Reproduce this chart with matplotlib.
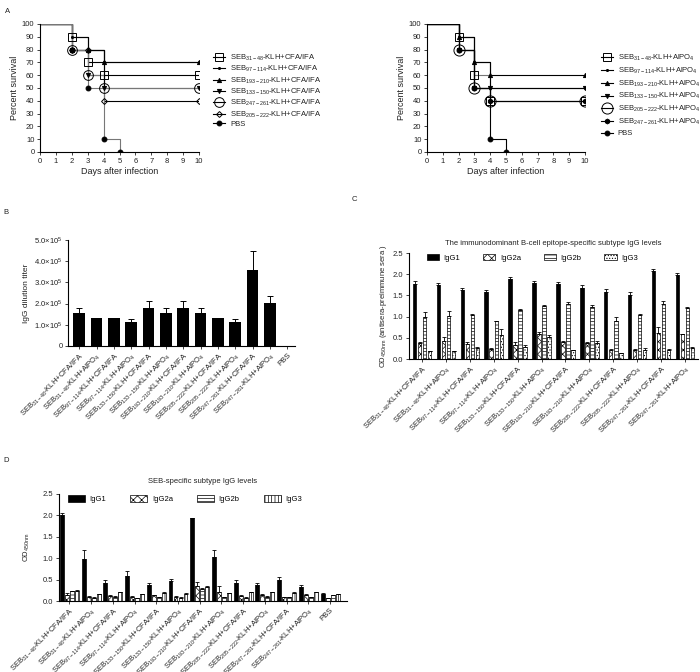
import numpy as np
import matplotlib
matplotlib.use('Agg')
from matplotlib import pyplot as plt

plt.rcParams['font.family'] = ['Liberation Sans', 'DejaVu Sans']
plt.rcParams['mathtext.fontset'] = 'custom'
plt.rcParams['mathtext.rm'] = 'Liberation Sans'
plt.rcParams['mathtext.it'] = 'Liberation Sans:italic'
plt.rcParams['mathtext.default'] = 'regular'
plt.rcParams['hatch.linewidth'] = 0.5
plt.rcParams['axes.linewidth'] = 0.8

# ---------------- data ----------------
days = [0, 2, 3, 4, 10]
days_pbs = [0, 2, 3, 4, 5]

cfa_names = ['SEB$_{31-48}$-KLH+CFA/IFA', 'SEB$_{97-114}$-KLH+CFA/IFA',
             'SEB$_{193-210}$-KLH+CFA/IFA', 'SEB$_{133-150}$-KLH+CFA/IFA',
             'SEB$_{247-261}$-KLH+CFA/IFA', 'SEB$_{205-222}$-KLH+CFA/IFA', 'PBS']
cfa_surv = [[100, 90, 70, 60, 60],
            [100, 90, 80, 70, 70],
            [100, 80, 80, 70, 70],
            [100, 80, 60, 50, 50],
            [100, 80, 60, 50, 50],
            [100, 80, 80, 40, 40],
            [100, 80, 50, 10, 0]]

alpo_names = ['SEB$_{31-48}$-KLH+AlPO$_4$', 'SEB$_{97-114}$-KLH+AlPO$_4$',
              'SEB$_{193-210}$-KLH+AlPO$_4$', 'SEB$_{133-150}$-KLH+AlPO$_4$',
              'SEB$_{205-222}$-KLH+AlPO$_4$', 'SEB$_{247-261}$-KLH+AlPO$_4$', 'PBS']
alpo_surv = [[100, 90, 60, 40, 40],
             [100, 90, 70, 50, 50],
             [100, 90, 70, 60, 60],
             [100, 80, 50, 50, 50],
             [100, 80, 50, 40, 40],
             [100, 80, 50, 40, 40],
             [100, 80, 50, 10, 0]]

groups = ['SEB$_{31-48}$-KLH+CFA/IFA', 'SEB$_{31-48}$-KLH+AlPO$_4$',
          'SEB$_{97-114}$-KLH+CFA/IFA', 'SEB$_{97-114}$-KLH+AlPO$_4$',
          'SEB$_{133-150}$-KLH+CFA/IFA', 'SEB$_{133-150}$-KLH+AlPO$_4$',
          'SEB$_{193-210}$-KLH+CFA/IFA', 'SEB$_{193-210}$-KLH+AlPO$_4$',
          'SEB$_{205-222}$-KLH+CFA/IFA', 'SEB$_{205-222}$-KLH+AlPO$_4$',
          'SEB$_{247-261}$-KLH+CFA/IFA', 'SEB$_{247-261}$-KLH+AlPO$_4$', 'PBS']

titer = [1.55, 1.3, 1.3, 1.15, 1.8, 1.55, 1.8, 1.55, 1.3, 1.15, 3.6, 2.05, 0.02]  # x1e5
titer_err = [0.25, 0, 0, 0.12, 0.3, 0.25, 0.3, 0.25, 0, 0.12, 0.9, 0.3, 0]

subtypes = ['IgG1', 'IgG2a', 'IgG2b', 'IgG3']

c_vals = [[1.78, 1.74, 1.63, 1.57, 1.88, 1.79, 1.76, 1.68, 1.57, 1.52, 2.07, 1.97],
          [0.38, 0.43, 0.36, 0.23, 0.34, 0.58, 0.39, 0.37, 0.21, 0.21, 0.61, 0.58],
          [1.00, 1.01, 1.04, 0.89, 1.15, 1.24, 1.29, 1.23, 0.89, 1.03, 1.29, 1.20],
          [0.19, 0.19, 0.27, 0.57, 0.29, 0.52, 0.21, 0.37, 0.14, 0.22, 0.22, 0.27]]
c_err = [[0.05, 0.05, 0.05, 0.05, 0.05, 0.05, 0.06, 0.06, 0.07, 0.05, 0.05, 0.05],
         [0.03, 0.10, 0.03, 0.02, 0.06, 0.05, 0.03, 0.02, 0.02, 0.02, 0.14, 0.02],
         [0.12, 0.13, 0.02, 0.01, 0.03, 0.04, 0.05, 0.05, 0.09, 0.02, 0.08, 0.02],
         [0.01, 0.01, 0.01, 0.14, 0.04, 0.04, 0.01, 0.05, 0.01, 0.04, 0.01, 0.02]]

d_vals = [[2.01, 0.98, 0.42, 0.58, 0.37, 0.46, 1.93, 1.02, 0.42, 0.38, 0.49, 0.32, 0.17],
          [0.15, 0.10, 0.12, 0.10, 0.13, 0.10, 0.35, 0.22, 0.12, 0.14, 0.09, 0.14, 0.07],
          [0.23, 0.08, 0.10, 0.06, 0.09, 0.08, 0.27, 0.09, 0.08, 0.10, 0.09, 0.09, 0.14],
          [0.24, 0.16, 0.20, 0.16, 0.19, 0.17, 0.32, 0.18, 0.20, 0.20, 0.19, 0.20, 0.16]]
d_err = [[0.05, 0.22, 0.08, 0.12, 0.05, 0.06, 0.02, 0.17, 0.06, 0.04, 0.06, 0.06, 0.02],
         [0.03, 0.01, 0.01, 0.01, 0.02, 0.02, 0.10, 0.12, 0.02, 0.02, 0.01, 0.02, 0.01],
         [0.01, 0.01, 0.01, 0.01, 0.01, 0.01, 0.03, 0.01, 0.01, 0.01, 0.01, 0.01, 0.01],
         [0.01, 0.01, 0.01, 0.01, 0.01, 0.01, 0.03, 0.01, 0.01, 0.01, 0.01, 0.01, 0.01]]

# ---------------- helpers ----------------
W, H = 700, 672
fs = 5.5
tc = '#222222'


def px_axes(fig, x0, y0, x1, y1):
    return fig.add_axes([x0 / W, 1 - y1 / H, (x1 - x0) / W, (y1 - y0) / H])


def style_ax(ax):
    for s in ['top', 'right']:
        ax.spines[s].set_visible(False)
    ax.tick_params(labelsize=fs, width=0.6, length=2.5, pad=1.5, colors=tc)


def survival(ax, names, surv, styles, leg_x, leg_sp):
    for i, (name, vals) in enumerate(zip(names, surv)):
        d = days_pbs if name == 'PBS' else days
        mk, ms, mfc, col = styles[i]
        ax.step(d, vals, where='post', color=col, lw=0.8, zorder=2)
        ax.plot(d[1:], vals[1:], ls='none', marker=mk, ms=ms, mfc=mfc, mec='k', mew=0.7, zorder=3)
        ax.plot([], [], color='k', lw=0.8, marker=mk, ms=ms, mfc=mfc, mec='k', mew=0.7, label=name)
    ax.set_xlim(0, 10)
    ax.set_ylim(0, 100)
    ax.set_xticks(range(0, 11))
    ax.set_yticks(range(0, 101, 10))
    ax.set_xlabel('Days after infection', fontsize=6.5, labelpad=2, color=tc)
    ax.set_ylabel('Percent survival', fontsize=6.5, labelpad=2, color=tc)
    style_ax(ax)
    leg = ax.legend(loc='upper left', bbox_to_anchor=(leg_x, 0.8), frameon=False, fontsize=fs,
                    handlelength=1.6, labelspacing=leg_sp, borderaxespad=0, handletextpad=0.6)
    for t in leg.get_texts():
        t.set_color(tc)


def grouped(ax, vals, errs, hatches, width, step):
    n = len(vals[0])
    x = np.arange(n)
    for k in range(4):
        pos = x + (k - 1.5) * step
        fc = 'black' if k == 0 else 'white'
        ax.bar(pos, vals[k], width, color=fc, edgecolor='black', lw=0.5, hatch=hatches[k],
               label=subtypes[k], zorder=2)
        ax.errorbar(pos, vals[k], yerr=[np.zeros(n), errs[k]], fmt='none', ecolor='black',
                    elinewidth=0.6, capsize=1.2, capthick=0.6, zorder=3)
    ax.set_ylim(0, 2.5)
    ax.set_yticks(np.arange(0, 2.51, 0.5))
    ax.set_yticklabels(['%.1f' % v for v in np.arange(0, 2.51, 0.5)])
    ax.set_xticks(x)
    style_ax(ax)


fig = plt.figure(figsize=(7, 6.72), dpi=100)

# ---------------- A ----------------
fig.text(5 / W, 1 - 13 / H, 'A', fontsize=fs, color=tc)
axA1 = px_axes(fig, 40, 24, 199, 152)
styles_cfa = [('s', 6, 'none', 'k'), ('.', 3, 'k', 'k'), ('^', 3, 'k', 'k'), ('v', 3, 'k', 'k'),
              ('o', 7, 'none', '#777'), ('D', 3, 'none', 'k'), ('o', 3.5, 'k', '#777')]
survival(axA1, cfa_names, cfa_surv, styles_cfa, 1.07, 0.15)

axA2 = px_axes(fig, 427, 24, 585, 152)
styles_alpo = [('s', 6, 'none', '#777'), ('.', 3, 'k', 'k'), ('^', 3, 'k', 'k'), ('v', 3, 'k', 'k'),
               ('o', 8, 'none', 'k'), ('h', 3.5, 'k', 'k'), ('o', 3.5, 'k', 'k')]
survival(axA2, alpo_names, alpo_surv, styles_alpo, 1.08, 0.35)

# ---------------- B ----------------
fig.text(3 / W, 1 - 214 / H, 'B', fontsize=fs, color=tc)
axB = px_axes(fig, 68, 240, 295, 346)
xb = np.arange(len(titer))
axB.bar(xb, titer, 0.68, color='black', zorder=2)
axB.errorbar(xb, titer, yerr=[np.zeros(len(titer)), titer_err], fmt='none', ecolor='black',
             elinewidth=0.7, capsize=2, capthick=0.7)
axB.set_xlim(-0.65, 12.45)
axB.set_ylim(0, 5)
axB.set_yticks([0, 1, 2, 3, 4, 5])
axB.set_yticklabels(['0'] + [r'%d.0$\times$10$^5$' % v for v in range(1, 6)])
axB.set_xticks(xb)
axB.set_xticklabels(groups, rotation=45, ha='right', rotation_mode='anchor', fontsize=fs)
axB.set_ylabel('IgG dilution titer', fontsize=6, labelpad=3, color=tc)
style_ax(axB)

# ---------------- C ----------------
fig.text(352 / W, 1 - 201 / H, 'C', fontsize=fs, color=tc)
axC = px_axes(fig, 409, 253, 698, 359)
grouped(axC, c_vals, c_err, [None, 'xxxx', '-----', '......'], 0.15, 0.21)
axC.set_xlim(-0.55, 11.55)
axC.set_xticklabels(groups[:12], rotation=45, ha='right', rotation_mode='anchor', fontsize=fs)
axC.set_ylabel('OD$_{450nm}$ (antisera-preimmune sera )', fontsize=fs, labelpad=3, color=tc)
axC.set_title('The immunodominant B-cell epitope-specific subtype IgG levels', fontsize=fs, pad=6,
              color=tc)
legC = axC.legend(loc='upper left', bbox_to_anchor=(0.05, 1.02), ncol=4, frameon=False, fontsize=fs,
                  handlelength=1.6, handleheight=0.8, handletextpad=0.6, columnspacing=3.0,
                  borderaxespad=0)

# ---------------- D ----------------
fig.text(3 / W, 1 - 462 / H, 'D', fontsize=fs, color=tc)
axD = px_axes(fig, 59, 494, 347, 601)
grouped(axD, d_vals, d_err, [None, 'xxxx', '-----', '|||||'], 0.18, 0.23)
axD.set_xlim(-0.48, 12.78)
axD.set_xticklabels(groups, rotation=45, ha='right', rotation_mode='anchor', fontsize=fs)
axD.set_ylabel('OD$_{450nm}$', fontsize=fs, labelpad=8, color=tc)
axD.set_title('SEB-specific subtype IgG levels', fontsize=fs, pad=8, color=tc)
legD = axD.legend(loc='upper left', bbox_to_anchor=(0.02, 1.02), ncol=4, frameon=False, fontsize=fs,
                  handlelength=2.2, handleheight=1.0, handletextpad=0.6, columnspacing=3.2,
                  borderaxespad=0)

fig.savefig('out.png', dpi=100)
